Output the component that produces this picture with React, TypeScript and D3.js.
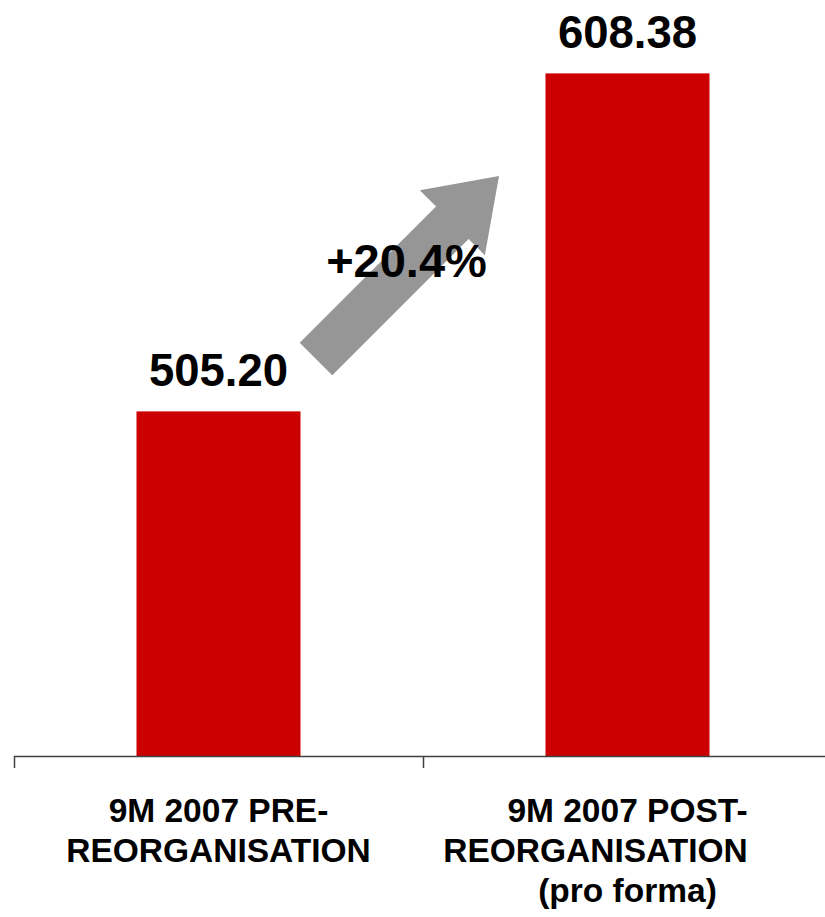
import React from "react";
import * as d3 from "d3";

const categories = ["pre", "post"];
const values = [505.2, 608.38];
const valueLabels = ["505.20", "608.38"];
const categoryLines = [
  ["9M 2007 PRE-", "REORGANISATION"],
  ["9M 2007 POST-", "REORGANISATION", "(pro forma)"],
];
const lineShift = [
  [0, 0],
  [0, -32, 0],
];
const growthLabel = "+20.4%";
const yDomain = [400, 620];

const W = 825;
const H = 917;
const FONT = "'Liberation Sans', Arial, Helvetica, sans-serif";

export default function App() {
  const baseY = 756;
  const x = d3.scaleBand<string>().domain(categories).range([14, 832]).paddingInner(0).paddingOuter(0);
  const y = d3.scaleLinear().domain(yDomain).range([baseY, baseY - (yDomain[1] - yDomain[0]) * 3.2758]);
  const barW = 164;

  const c0 = (x(categories[0]) ?? 0) + x.bandwidth() / 2;

  // arrow geometry (annotation)
  const tail = [c0 + 97.5, 359];
  const tip = [499, 176];
  const dx = tip[0] - tail[0];
  const dy = tip[1] - tail[1];
  const len = Math.hypot(dx, dy);
  const ux = dx / len, uy = dy / len;
  const nx = -uy, ny = ux;
  const shaftW = 46, headW = 92, headL = 66;
  const bx = tip[0] - ux * headL, by = tip[1] - uy * headL;
  const pts: [number, number][] = [
    [tail[0] + nx * shaftW / 2, tail[1] + ny * shaftW / 2],
    [bx + nx * shaftW / 2, by + ny * shaftW / 2],
    [bx + nx * headW / 2, by + ny * headW / 2],
    [tip[0], tip[1]],
    [bx - nx * headW / 2, by - ny * headW / 2],
    [bx - nx * shaftW / 2, by - ny * shaftW / 2],
    [tail[0] - nx * shaftW / 2, tail[1] - ny * shaftW / 2],
  ];
  const arrowPath = d3.line()(pts) + "Z";

  const ticks = [...categories.map((c) => x(c) ?? 0), 832];

  return (
    <svg width={W} height={H} style={{ position: "absolute", left: 0, top: 0, background: "#fff" }} fontFamily={FONT}>
      <rect width={W} height={H} fill="#fff" />
      {categories.map((c, i) => {
        const cx = (x(c) ?? 0) + x.bandwidth() / 2;
        return (
          <g key={c}>
            <rect x={cx - barW / 2} y={y(values[i])} width={barW} height={baseY - y(values[i])} fill="#CC0000" />
            <text x={cx} y={y(values[i]) - 25} textAnchor="middle" fontSize={45.5} fontWeight="bold" fill="#000">
              {valueLabels[i]}
            </text>
            {categoryLines[i].map((ln, j) => (
              <text key={j} x={cx + lineShift[i][j]} y={822 + j * 40} textAnchor="middle" fontSize={33.5} fontWeight="bold" fill="#000">
                {ln}
              </text>
            ))}
          </g>
        );
      })}
      <line x1={14} x2={832} y1={baseY + 0.5} y2={baseY + 0.5} stroke="#404040" strokeWidth={1.5} />
      {ticks.map((t, i) => (
        <line key={i} x1={t + 0.5} x2={t + 0.5} y1={baseY} y2={baseY + 12} stroke="#404040" strokeWidth={1.5} />
      ))}
      <path d={arrowPath} fill="#969696" />
      <text x={406.5} y={277} textAnchor="middle" fontSize={47} fontWeight="bold" fill="#000">
        {growthLabel}
      </text>
    </svg>
  );
}
